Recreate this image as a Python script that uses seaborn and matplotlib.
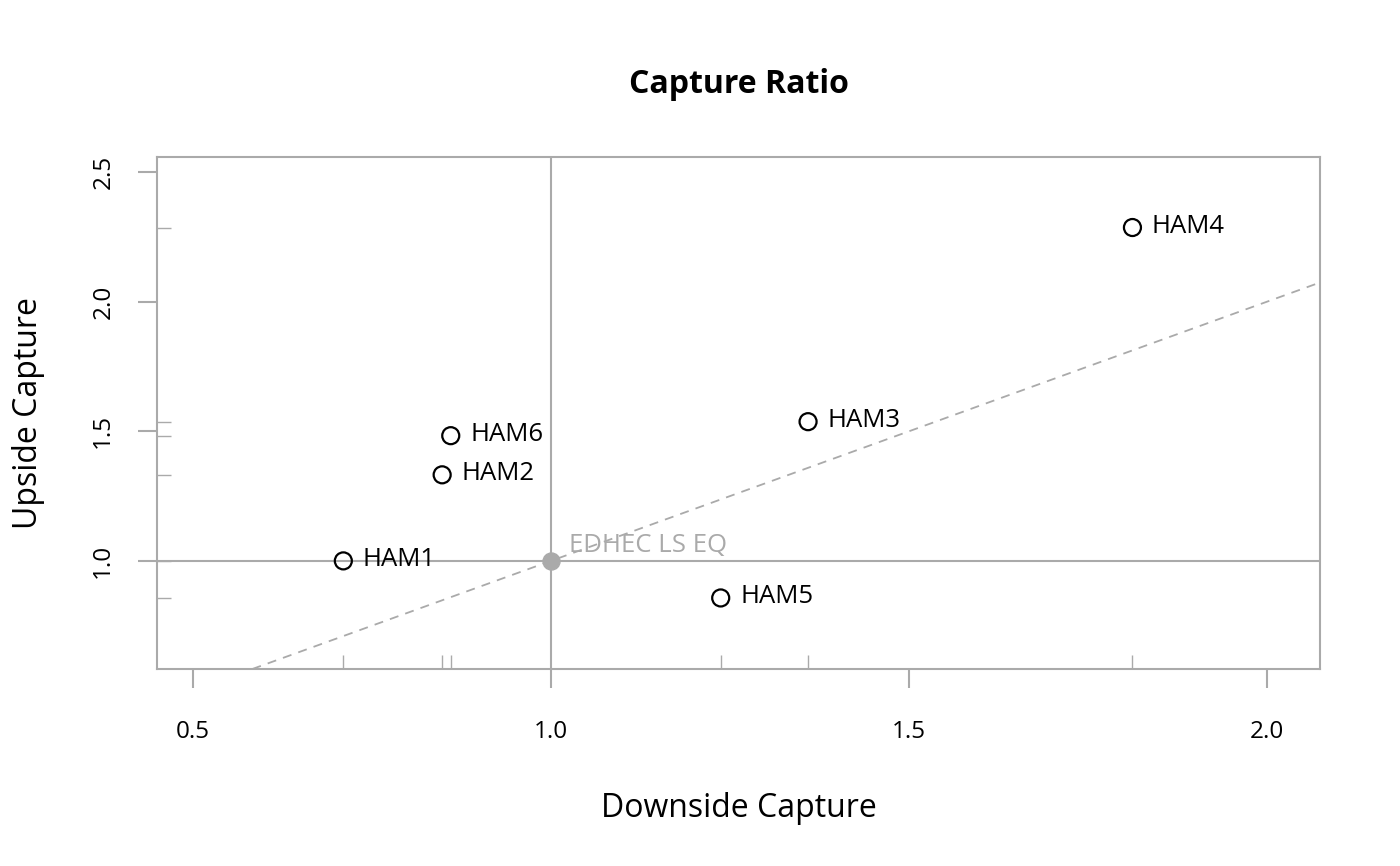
import matplotlib
matplotlib.use('Agg')
import matplotlib.pyplot as plt
import seaborn as sns
import pandas as pd

# values
funds = ['HAM1', 'HAM2', 'HAM3', 'HAM4', 'HAM5', 'HAM6']
downside = [0.710, 0.848, 1.359, 1.812, 1.237, 0.860]
upside = [1.000, 1.332, 1.537, 2.286, 0.857, 1.483]
bench_name = 'EDHEC LS EQ'
bench_down = [1.0]
bench_up = [1.0]

xticks = [0.5, 1.0, 1.5, 2.0]
yticks = [1.0, 1.5, 2.0, 2.5]

df = pd.DataFrame({'fund': funds, 'down': downside, 'up': upside})
bench = pd.DataFrame({'down': bench_down, 'up': bench_up})

sns.set_style('white')
plt.rcParams['font.family'] = ['Open Sans', 'DejaVu Sans']
plt.rcParams['text.color'] = 'black'
plt.rcParams['axes.labelcolor'] = 'black'
plt.rcParams['xtick.labelcolor'] = 'black'
plt.rcParams['ytick.labelcolor'] = 'black'

grey = '#aaaaaa'
fig = plt.figure(figsize=(14, 8.66), dpi=100)
ax = fig.add_axes([0.1121, 0.2275, 0.8308, 0.5912])

ax.set_xlim(0.4497, 2.074)
ax.set_ylim(0.583, 2.558)

# reference lines
ax.axhline(1.0, color=grey, lw=1.5, zorder=1)
ax.axvline(1.0, color=grey, lw=1.5, zorder=1)
ax.axline((1.0, 1.0), slope=1, color=grey, lw=1.3, ls=(0, (5, 4)), zorder=1)

# rug ticks along the axes
sns.rugplot(data=df, x='down', height=0.028, color=grey, lw=1.0, ax=ax)
sns.rugplot(data=df, y='up', height=0.012, color=grey, lw=1.0, ax=ax)

# fund points and benchmark point
sns.scatterplot(data=df, x='down', y='up', ax=ax, s=150, facecolor='none',
                edgecolor='black', linewidth=1.6, zorder=3)
sns.scatterplot(data=bench, x='down', y='up', ax=ax, s=150, color=grey,
                edgecolor=grey, zorder=3)

for name, xv, yv in zip(funds, downside, upside):
    ax.annotate(name, (xv, yv), xytext=(14, 1), textcoords='offset points',
                va='center', ha='left', fontsize=18.5, color='black')
ax.annotate(bench_name, (bench_down[0], bench_up[0]), xytext=(13, 11),
            textcoords='offset points', va='center', ha='left',
            fontsize=18.5, color=grey)

ax.set_xticks(xticks)
ax.set_xticklabels([f'{t:.1f}' for t in xticks])
ax.set_yticks(yticks)
ax.set_yticklabels([f'{t:.1f}' for t in yticks], rotation=90, va='center')
ax.tick_params(axis='both', which='major', length=14, width=1.5, color=grey,
               labelsize=17.5, direction='out', bottom=True, left=True)
ax.tick_params(axis='x', pad=23)
ax.tick_params(axis='y', pad=16)

for sp in ax.spines.values():
    sp.set_color(grey)
    sp.set_linewidth(1.5)

ax.set_xlabel('Downside Capture', fontsize=23, labelpad=34)
ax.set_ylabel('Upside Capture', fontsize=23, labelpad=33)
ax.set_title('Capture Ratio', fontsize=23, fontweight='bold', pad=46)

fig.savefig('out.png', dpi=100)
